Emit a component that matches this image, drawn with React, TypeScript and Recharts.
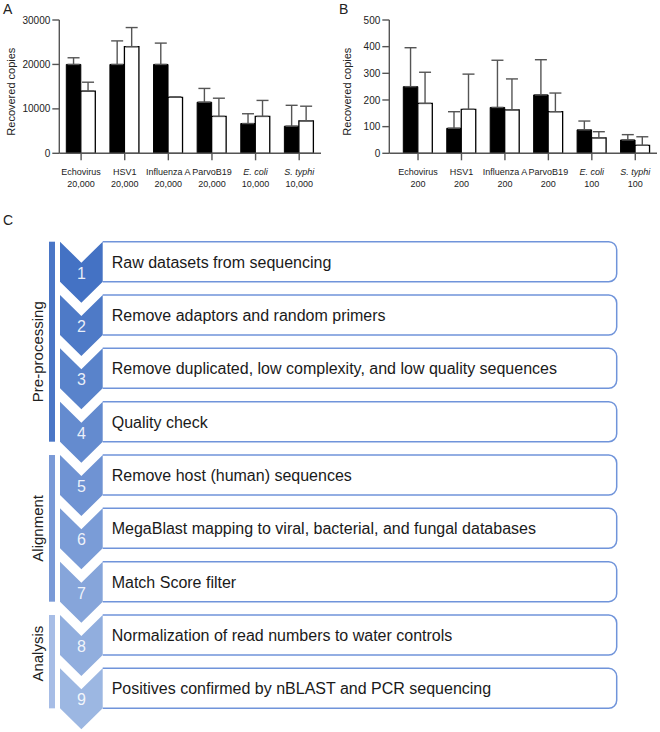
import { BarChart, Bar, XAxis, YAxis, ErrorBar } from 'recharts';

const FONT = "'Liberation Sans', Arial, Helvetica, sans-serif";

// panels A and B: spiked pathogens and spike amounts
const pathogens = ['Echovirus', 'HSV1', 'Influenza A', 'ParvoB19', 'E. coli', 'S. typhi'];
const italicNames = ['E. coli', 'S. typhi'];
const spikeA = ['20,000', '20,000', '20,000', '20,000', '10,000', '10,000'];
const spikeB = ['200', '200', '200', '200', '100', '100'];

// panel A (high spike): mean and upper error
const blackA = [20000, 20000, 20000, 11500, 6700, 6100];
const blackErrA = [1500, 5300, 4800, 3100, 2200, 4700];
const whiteA = [14000, 24000, 12600, 8300, 8300, 7300];
const whiteErrA = [2000, 4300, 100, 4100, 3600, 3300];
const ticksA = [0, 10000, 20000, 30000];

// panel B (low spike)
const blackB = [250, 94, 172, 219, 88, 50];
const blackErrB = [146, 62, 177, 132, 33, 20];
const whiteB = [187, 165, 163, 156, 58, 30];
const whiteErrB = [117, 132, 116, 70, 23, 32];
const ticksB = [0, 100, 200, 300, 400, 500];

// panel C: pipeline
const steps = [
  'Raw datasets from sequencing',
  'Remove adaptors and random primers',
  'Remove duplicated, low complexity, and low quality sequences',
  'Quality check',
  'Remove host (human) sequences',
  'MegaBlast mapping to viral, bacterial, and fungal databases',
  'Match Score filter',
  'Normalization of read numbers to water controls',
  'Positives confirmed by nBLAST and PCR sequencing',
];
const groupNames = ['Pre-processing', 'Alignment', 'Analysis'];
const groupFirst = [0, 4, 7];
const groupLast = [3, 6, 8];

const chevronColors = ['#4472c4', '#4e7ac7', '#5983cb', '#648bcf', '#6f93d3', '#7a9cd7', '#86a5da', '#91aede', '#9cb7e2'];
const groupColors = ['#4a76c6', '#7a9ad7', '#a7bde6'];
const groupLabelShift = [10, 0, -8];

function buildRows(doses: string[], b: number[], be: number[], w: number[], we: number[]) {
  return pathogens.map((name, i) => ({
    name,
    dose: doses[i],
    black: b[i],
    blackErr: [0, be[i]],
    white: w[i],
    whiteErr: [0, we[i]],
  }));
}

const dataA = buildRows(spikeA, blackA, blackErrA, whiteA, whiteErrA);
const dataB = buildRows(spikeB, blackB, blackErrB, whiteB, whiteErrB);

function PathogenTick(props: any) {
  const { x, y, payload, doses } = props;
  const i = pathogens.indexOf(payload.value);
  return (
    <text x={x} y={y} textAnchor="middle" fontSize={9} fill="#222" fontFamily={FONT}>
      <tspan x={x} dy={12.5} fontStyle={italicNames.includes(payload.value) ? 'italic' : 'normal'}>
        {payload.value}
      </tspan>
      <tspan x={x} dy={12}>{doses[i]}</tspan>
    </text>
  );
}

function YTitle(props: any) {
  const { viewBox, base } = props;
  const cx = viewBox.x + base;
  const cy = viewBox.y + viewBox.height / 2 + 5;
  return (
    <text
      x={cx}
      y={cy}
      transform={`rotate(-90 ${cx} ${cy})`}
      textAnchor="middle"
      fontSize={11}
      fill="#222"
      fontFamily={FONT}
    >
      Recovered copies
    </text>
  );
}

function RecoveryChart({ data, ticks, doses, right, padLeft, titleBase }: any) {
  const axisStyle = { stroke: '#555', strokeWidth: 1.4 };
  return (
    <BarChart
      width={330}
      height={195}
      data={data}
      margin={{ top: 20, right, left: 0, bottom: 0 }}
      barGap={0}
      barSize={14.5}
    >
      <XAxis
        dataKey="name"
        height={41.7}
        interval={0}
        padding={{ left: padLeft, right: 0 }}
        axisLine={axisStyle}
        tickLine={axisStyle}
        tickSize={7}
        tickMargin={2}
        tick={<PathogenTick doses={doses} />}
      />
      <YAxis
        width={59.3}
        domain={[0, ticks[ticks.length - 1]]}
        ticks={ticks}
        interval={0}
        axisLine={axisStyle}
        tickLine={axisStyle}
        tickSize={7}
        tickMargin={2}
        tick={{ fontSize: 10, fill: '#222', fontFamily: FONT }}
        label={<YTitle base={titleBase} />}
      />
      <Bar dataKey="black" fill="#000" stroke="#000" strokeWidth={1} isAnimationActive={false}>
        <ErrorBar dataKey="blackErr" width={6} stroke="#555" strokeWidth={1.4} direction="y" isAnimationActive={false} />
      </Bar>
      <Bar dataKey="white" fill="#fff" stroke="#000" strokeWidth={1.3} isAnimationActive={false}>
        <ErrorBar dataKey="whiteErr" width={6} stroke="#555" strokeWidth={1.4} direction="y" isAnimationActive={false} />
      </Bar>
    </BarChart>
  );
}

// flowchart geometry
const TOP0 = 241.7;
const PITCH = 53.33;
const CH_X0 = 60;
const CH_X1 = 102.7;
const SIDE = 40;
const TIP = 21;
const BOX_RIGHT = 616.7;
const RAD = 8;

function Pipeline() {
  const xm = (CH_X0 + CH_X1) / 2;
  return (
    <svg width={660} height={732} style={{ position: 'absolute', left: 0, top: 0 }} fontFamily={FONT}>
      <text x={3} y={14} fontSize={14} fill="#222">A</text>
      <text x={339} y={14} fontSize={14} fill="#222">B</text>
      <text x={3} y={225} fontSize={14} fill="#222">C</text>
      {groupNames.map((g, k) => {
        const y0 = TOP0 + groupFirst[k] * PITCH;
        const y1 = TOP0 + groupLast[k] * PITCH + SIDE;
        const cy = (y0 + y1) / 2 + groupLabelShift[k];
        return (
          <g key={g}>
            <rect x={49} y={y0} width={6} height={y1 - y0} fill={groupColors[k]} />
            <text
              x={43}
              y={cy}
              transform={`rotate(-90 43 ${cy})`}
              textAnchor="middle"
              fontSize={15}
              fill="#222"
            >
              {g}
            </text>
          </g>
        );
      })}
      {steps.map((s, i) => {
        const t = TOP0 + i * PITCH;
        const b = t + SIDE;
        const box = `M ${CH_X1} ${t} H ${BOX_RIGHT - RAD} A ${RAD} ${RAD} 0 0 1 ${BOX_RIGHT} ${t + RAD} V ${b - RAD} A ${RAD} ${RAD} 0 0 1 ${BOX_RIGHT - RAD} ${b} H ${CH_X1}`;
        const chev = `M ${CH_X0} ${t} L ${xm} ${t + TIP} L ${CH_X1} ${t} L ${CH_X1} ${b} L ${xm} ${b + TIP} L ${CH_X0} ${b} Z`;
        return (
          <g key={s}>
            <path d={box} fill="#fff" stroke="#7094da" strokeWidth={1.5} />
            <path d={chev} fill={chevronColors[i]} />
            <text x={xm} y={t + 37} textAnchor="middle" fontSize={16} fill="#fff" fillOpacity={0.88}>
              {i + 1}
            </text>
            <text x={111.7} y={t + 26} fontSize={16} fill="#1a1a1a">
              {s}
            </text>
          </g>
        );
      })}
    </svg>
  );
}

export default function App() {
  return (
    <div style={{ position: 'absolute', left: 0, top: 0, width: 660, height: 732, background: '#fff' }}>
      <Pipeline />
      <div style={{ position: 'absolute', left: 0, top: 0 }}>
        <RecoveryChart data={dataA} ticks={ticksA} doses={spikeA} right={9} padLeft={0} titleBase={15} />
      </div>
      <div style={{ position: 'absolute', left: 330, top: 0 }}>
        <RecoveryChart data={dataB} ticks={ticksB} doses={spikeB} right={3} padLeft={7} titleBase={21} />
      </div>
    </div>
  );
}
